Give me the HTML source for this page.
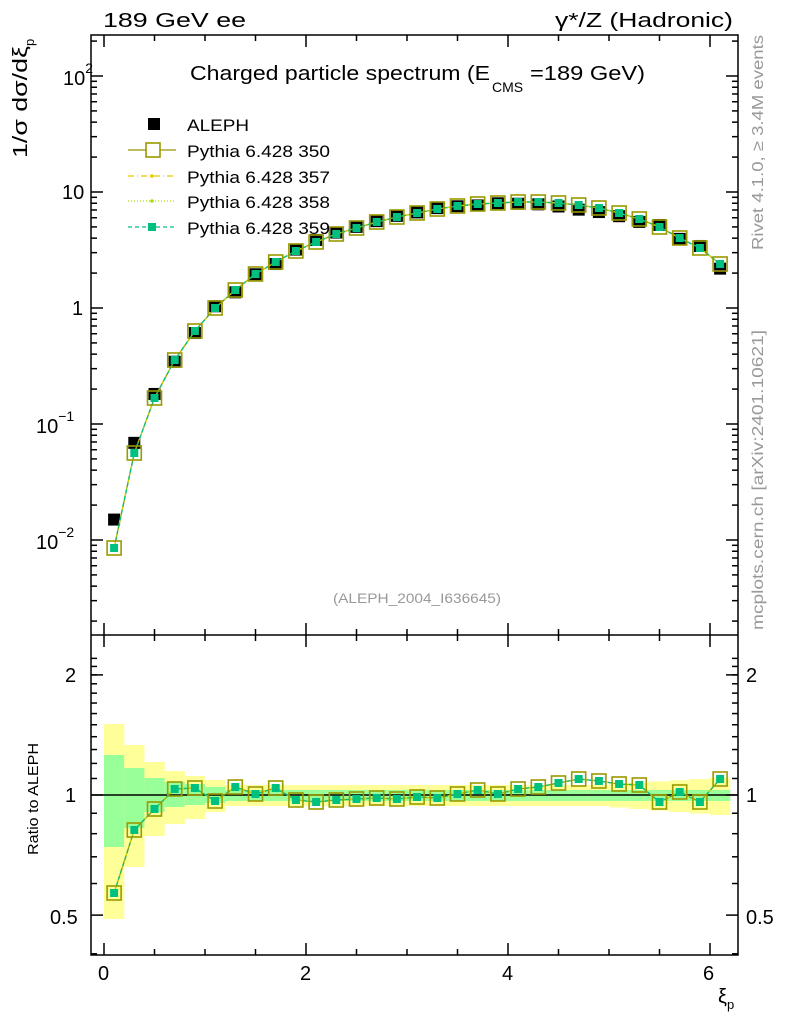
<!DOCTYPE html><html><head><style>body{margin:0;background:#fff}svg{font-family:"Liberation Sans",sans-serif}</style></head><body>
<svg id="s" width="786" height="1024" xmlns="http://www.w3.org/2000/svg">
<text x="103" y="27" font-size="20" textLength="143" lengthAdjust="spacingAndGlyphs">189 GeV ee</text>
<text x="555" y="27" font-size="20" textLength="178" lengthAdjust="spacingAndGlyphs">γ*/Z (Hadronic)</text>
<text x="190" y="80" font-size="20" textLength="300" lengthAdjust="spacingAndGlyphs">Charged particle spectrum (E</text>
<text x="492" y="92" font-size="14">CMS</text>
<text x="530" y="80" font-size="20" textLength="115" lengthAdjust="spacingAndGlyphs">=189 GeV)</text>
<text x="333" y="603" font-size="14" fill="#999" textLength="168" lengthAdjust="spacingAndGlyphs">(ALEPH_2004_I636645)</text>
<text transform="translate(27,158) rotate(-90)" font-size="20" textLength="112" lengthAdjust="spacingAndGlyphs">1/σ   dσ/dξ</text>
<text transform="translate(34,46) rotate(-90)" font-size="13">p</text>
<text transform="translate(38,855) rotate(-90)" font-size="15" textLength="112" lengthAdjust="spacingAndGlyphs">Ratio to ALEPH</text>
<text transform="translate(763,250) rotate(-90)" font-size="16" fill="#999" textLength="215" lengthAdjust="spacingAndGlyphs">Rivet 4.1.0, ≥ 3.4M events</text>
<text transform="translate(763,630) rotate(-90)" font-size="16" fill="#999" textLength="300" lengthAdjust="spacingAndGlyphs">mcplots.cern.ch [arXiv:2401.10621]</text>
<text x="718" y="1003" font-size="20">ξ<tspan font-size="13" dy="6">p</tspan></text>
<g font-size="20">
<text x="63" y="85">10<tspan font-size="14" dy="-12">2</tspan></text>
<text x="62" y="199">10</text>
<text x="72" y="315">1</text>
<text x="36" y="433">10<tspan font-size="14" dy="-12">−1</tspan></text>
<text x="36" y="549">10<tspan font-size="14" dy="-12">−2</tspan></text>
<text x="65" y="682">2</text><text x="65" y="802">1</text><text x="50" y="924">0.5</text>
<text x="746" y="682">2</text><text x="746" y="802">1</text><text x="746" y="924">0.5</text>
<text x="98" y="980">0</text><text x="300" y="980">2</text><text x="502" y="980">4</text><text x="703" y="980">6</text>
</g>
<g id="g"></g>
</svg>
<script>
const g=document.getElementById('g');let h='';
const X=v=>104+101*v;
const L=(x1,y1,x2,y2,a)=>h+=`<line x1="${x1}" y1="${y1}" x2="${x2}" y2="${y2}" ${a||'stroke="#000" stroke-width="1.5"'}/>`;
const yb=[[724,919],[745,867],[762,836],[771,824],[776,819],[780,812]],gb=[[755,847],[768,828],[778,812],[782,807],[784,805],[787,803]];
for(let i=0;i<31;i++){let y=i<6?yb[i]:[785-(i>24?(i-24)*1.2:0),806+(i>24?(i-24)*1.5:0)];let gg=i<6?gb[i]:[790,801];
h+=`<rect x="${X(i*0.2)}" y="${y[0]}" width="20.3" height="${y[1]-y[0]}" fill="#ffff99"/>`;
h+=`<rect x="${X(i*0.2)}" y="${gg[0]}" width="20.3" height="${gg[1]-gg[0]}" fill="#99ff99"/>`;}
L(91,795,738,795);
h+=`<rect x="91" y="35" width="647" height="920" fill="none" stroke="#000" stroke-width="1.5"/>`;L(91,635,738,635);
for(let v=0;v<=6.3;v+=0.5){let m=Math.abs(v%2)<0.01;let x=X(v);let w=m?12:6;
L(x,955,x,955-w);L(x,35,x,35+w);L(x,635,x,635-w);L(x,635,x,635+w);}
for(let e=-3;e<=2;e++)for(let k=1;k<=9;k++){let y=308-116*(e+Math.log10(k));if(y<35||y>635)continue;let w=k==1?12:6;L(91,y,91+w,y);L(738,y,738-w,y);}
for(const r of [0.4,0.5,0.6,0.7,0.8,0.9,1,2]){let y=795-399*Math.log10(r);if(y>955)continue;let w=(r==1||r==2||r==0.5)?12:6;L(91,y,91+w,y);L(738,y,738-w,y);}
for(let r=1.1;r<2.3;r+=0.1){let y=795-399*Math.log10(r);L(91,y,97,y);L(738,y,732,y);}
const mc=[548,453,398,360,331,308,290,274,262,251,242,234,228,222,217,213,209,206,204,203,202,202,203,205,208,213,219,227,238,248,264];
const rt=[893,830,809,789,788,801,787,794,788,800,802,800,799,798,799,797,798,794,790,794,789,787,783,779,781,784,785,802,792,802,779];
const xs=mc.map((_,i)=>X(0.1+0.2*i));
const pl=(ys,a)=>h+=`<polyline points="${ys.map((y,i)=>xs[i]+','+y).join(' ')}" fill="none" ${a}/>`;
mc.forEach((y,i)=>{let d=y-(rt[i]-795)*0.29;h+=`<rect x="${xs[i]-6}" y="${d-6}" width="12" height="12" fill="#000"/>`;});
for(const ys of [mc,rt]){
pl(ys,'stroke="#999900" stroke-width="1.3"');pl(ys,'stroke="#e6c800" stroke-width="1.3" stroke-dasharray="6,3,1,3"');pl(ys,'stroke="#aadd00" stroke-width="1.3" stroke-dasharray="1,2"');pl(ys,'stroke="#00c080" stroke-width="1.3" stroke-dasharray="4,3"');
ys.forEach((y,i)=>{h+=`<rect x="${xs[i]-7}" y="${y-7}" width="14" height="14" fill="none" stroke="#999900" stroke-width="1.6"/><rect x="${xs[i]-4}" y="${y-4}" width="8" height="8" fill="#00c080"/>`;});}
h+=`<rect x="148" y="118" width="12" height="12" fill="#000"/>`;
const leg=[['ALEPH',124,62],['Pythia 6.428 350',150,143],['Pythia 6.428 357',176,143],['Pythia 6.428 358',201,143],['Pythia 6.428 359',227,143]];
leg.forEach(([t,y,w])=>h+=`<text x="187" y="${y+7}" font-size="17" textLength="${w}" lengthAdjust="spacingAndGlyphs">${t}</text>`);
L(128,150,176,150,'stroke="#999900" stroke-width="1.3"');h+=`<rect x="146" y="143" width="14" height="14" fill="#fff" stroke="#999900" stroke-width="1.6"/>`;
L(128,176,176,176,'stroke="#e6c800" stroke-width="1.3" stroke-dasharray="6,3,1,3"');h+=`<circle cx="152" cy="176" r="1.8" fill="#e6c800"/>`;
L(128,201,176,201,'stroke="#aadd00" stroke-width="1.3" stroke-dasharray="1,2"');h+=`<circle cx="152" cy="201" r="1.8" fill="#aadd00"/>`;
L(128,227,176,227,'stroke="#00c080" stroke-width="1.3" stroke-dasharray="4,3"');h+=`<rect x="148" y="223" width="8" height="8" fill="#00c080"/>`;
g.innerHTML=h;
</script></body></html>
